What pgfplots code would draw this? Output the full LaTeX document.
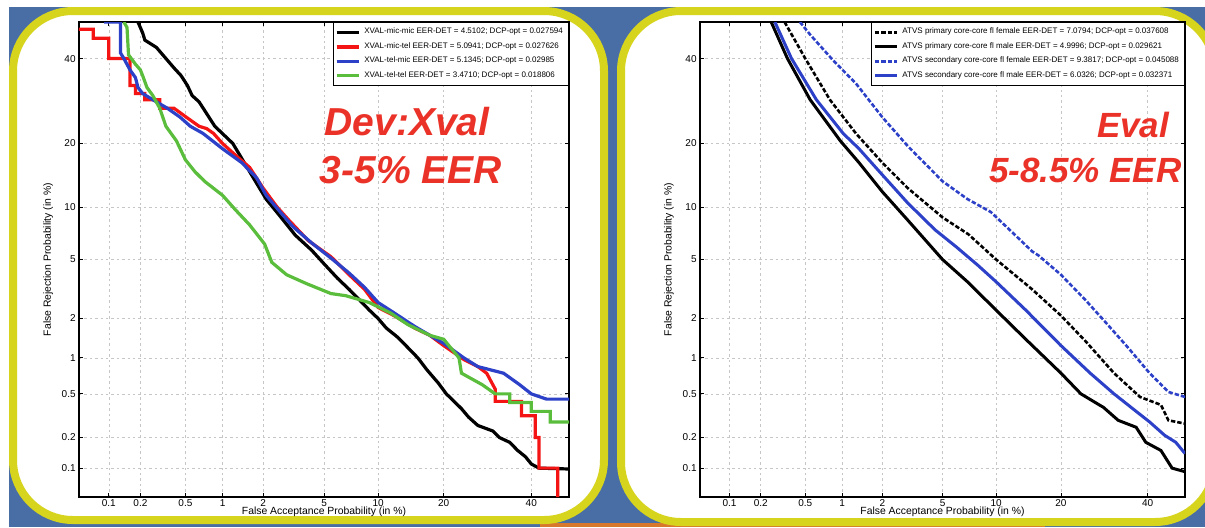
\documentclass[border=0pt]{standalone}
\usepackage{fontspec}
\setmainfont{Liberation Sans}
\usepackage{pgfplots}
\pgfplotsset{compat=1.18}
\usepackage{pgfplotstable}

\definecolor{bgblue}{RGB}{72,110,165}
\definecolor{frameyel}{RGB}{215,212,30}
\definecolor{txtred}{RGB}{235,50,40}
\definecolor{cblue}{RGB}{45,65,200}
\definecolor{cgreen}{RGB}{90,190,60}
\definecolor{cred}{RGB}{245,20,20}
\definecolor{orng}{RGB}{215,120,45}

% DET curves, false acceptance / false rejection in %
\pgfplotstableread{
fa fr
0.19 50
0.21 47
0.22 45
0.28 43
0.34 40
0.40 37.5
0.46 35.5
0.52 33
0.57 30.5
0.65 29
0.76 26
0.87 23.5
1.2 20
1.6 15
2.1 11
2.6 9
3.3 7
4.2 5.7
5.0 4.7
6.0 3.8
7.0 3.2
8.0 2.7
9.0 2.3
10 2.0
11 1.7
12.5 1.45
14 1.2
15.5 1.0
17 0.8
19 0.62
20.5 0.5
22 0.43
23.5 0.37
25 0.31
27 0.26
30.5 0.23
32 0.2
34.5 0.18
36.5 0.15
38.5 0.13
40 0.11
42 0.1
50 0.098
}\micmic
\pgfplotstableread{
fa fr
0.05 48
0.07 48
0.07 45.5
0.10 45.5
0.10 40
0.16 40
0.16 33
0.18 33
0.18 31
0.22 31
0.22 29.5
0.30 29.5
0.30 27.5
0.40 27.5
0.52 25.3
0.65 23.5
0.75 23
0.85 22
1.0 20
1.3 17.5
1.6 15.7
2.0 12.5
2.5 10
3.0 8.5
4.0 6.5
5.5 5.2
7 4
8.5 3.2
10 2.4
12 2.1
15 1.7
17.5 1.5
20 1.25
24 0.97
27 0.85
29 0.75
31 0.55
31 0.43
37.5 0.43
37.5 0.32
41 0.32
41 0.2
42 0.2
42 0.1
47 0.1
47 0.05
}\mictel
\pgfplotstableread{
fa fr
0.09 50
0.13 50
0.13 41.5
0.14 40
0.16 37
0.18 35
0.19 32.5
0.21 31
0.26 29.5
0.35 27.5
0.45 25.5
0.55 23.5
0.7 22
1.0 19
1.4 16.5
1.8 14
2.1 11.5
2.6 9.5
3.2 7.8
4.2 6.3
5.5 5.1
7 4.1
8.5 3.3
10 2.6
12 2.2
15 1.75
17.5 1.5
20 1.3
24 1.0
27 0.85
33 0.75
37 0.6
40 0.5
44 0.45
50 0.45
}\telmic
\pgfplotstableread{
fa fr
0.14 50
0.15 48.5
0.155 41
0.18 38.5
0.2 37
0.21 35.5
0.23 32.5
0.26 30.5
0.3 27.5
0.34 23.5
0.42 20.5
0.5 17
0.6 15
0.72 13.5
1.0 11.5
1.25 9.7
1.6 8
2.05 6.2
2.3 4.8
2.9 4.0
3.9 3.5
5.5 3.0
6.7 2.9
9 2.6
11.5 2.2
14 1.8
17.5 1.5
20 1.4
23 1.0
23.5 0.75
28 0.6
31 0.5
34.5 0.5
34.5 0.42
40 0.42
40 0.35
45 0.35
45 0.28
50 0.28
}\teltel
\pgfplotstableread{
fa fr
0.33 50
0.5 40
0.8 29.5
1.28 22
2 16.5
3 12.5
5 8.8
7.08 7.08
10 5
15 3.2
20 2.1
25 1.35
31.5 0.75
38 0.47
43.5 0.4
45.5 0.29
50 0.27
}\primfem
\pgfplotstableread{
fa fr
0.25 50
0.35 40
0.55 29.5
0.97 20.5
1.35 16.5
2 12
3 8.5
5 5
7 3.6
10 2.3
14 1.4
20 0.75
24 0.5
29 0.38
32.5 0.29
37 0.25
39.5 0.18
43.5 0.15
46.5 0.1
50 0.092
}\primmale
\pgfplotstableread{
fa fr
0.45 50
0.55 46.5
0.85 39.5
1.28 33.5
2 25.5
3 19.5
5 13.5
7 11
9.4 9.4
12 7.3
15 5.6
16 5.3
20 4.0
25 2.7
30 1.8
35 1.2
40.5 0.75
45.5 0.52
50 0.47
}\secfem
\pgfplotstableread{
fa fr
0.27 50
0.38 40
0.62 29.5
1.02 22
1.35 19
2 14.5
3 10.5
4.5 7.5
6 6
8 4.6
10 3.6
14 2.3
20 1.25
26 0.75
31.5 0.5
37 0.35
40.5 0.28
44.5 0.21
47.5 0.18
50 0.14
}\secmale

\pgfplotsset{
  det/.style={
    scale only axis, height=237.5pt,
    xmin=-3.2905, xmax=0, ymin=-3.2905, ymax=0,
    xtick={-3.0902,-2.8782,-2.5758,-2.3263,-2.0537,-1.6449,-1.2816,-0.8416,-0.2533},
    ytick={-3.0902,-2.8782,-2.5758,-2.3263,-2.0537,-1.6449,-1.2816,-0.8416,-0.2533},
    xticklabels={0.1,0.2,0.5,1,2,5,10,20,40},
    yticklabels={0.1,0.2,0.5,1,2,5,10,20,40},
    grid=major,
    major grid style={gray!45, line width=0.3pt, dash pattern=on 1.2pt off 1.5pt},
    axis line style={line width=0.6pt},
    tick style={black, line width=0.4pt},
    major tick length=2pt,
    tick align=inside,
    ticklabel style={font=\fontsize{5}{6}\selectfont},
    xticklabel style={inner sep=1.2pt},
    yticklabel style={inner sep=1.5pt},
    /pgf/number format/assume math mode=true,
    xlabel={False Acceptance Probability (in \%)},
    ylabel={False Rejection Probability (in \%)},
    label style={font=\fontsize{5.2}{6}\selectfont},
    xlabel style={at={(axis description cs:0.5,-0.032)}, anchor=center},
    legend cell align=left,
    legend style={at={(1,1)}, anchor=north east, draw=black, line width=0.5pt,
      font=\fontsize{4}{4.6}\selectfont, inner sep=0.8pt, row sep=-1.2pt},
    legend image code/.code={\draw[#1] (0pt,0pt) -- (11pt,0pt);},
    declare function={
      pt(\p)=sqrt(-2*ln(\p/100));
      probit(\p)=-(pt(\p)-(2.515517+0.802853*pt(\p)+0.010328*pt(\p)^2)/(1+1.432788*pt(\p)+0.189269*pt(\p)^2+0.001308*pt(\p)^3));
    },
  },
  detline/.style={line width=1.6pt},
}

\begin{document}
\begin{tikzpicture}
\useasboundingbox (0,0) rectangle (602.5pt,263.5pt);
\begin{scope}[x=0.5pt, y=-0.5pt, yshift=263.5pt]
  \clip (0,0) rectangle (1205,527);
  \fill[white] (0,0) rectangle (1205,527);
  \fill[bgblue] (9,7) rectangle (1205,527);
  \fill[orng] (540,523) rectangle (1045,527);
  \draw[frameyel, line width=4pt, fill=white, rounded corners=30pt] (13,11) rectangle (604,520);
  \draw[frameyel, line width=4pt, fill=white, rounded corners=30pt] (621,11) rectangle (1215,522);
\end{scope}

\begin{axis}[det, width=245pt, at={(39.5pt,15pt)}, anchor=south west,
  ylabel style={at={(axis description cs:-0.063,0.5)}, anchor=center}]
\addplot[detline, black] table[x expr={probit(\thisrow{fa})}, y expr={probit(\thisrow{fr})}] {\micmic};
\addlegendentry{XVAL-mic-mic EER-DET = 4.5102; DCP-opt = 0.027594}
\addplot[detline, cred] table[x expr={probit(\thisrow{fa})}, y expr={probit(\thisrow{fr})}] {\mictel};
\addlegendentry{XVAL-mic-tel EER-DET = 5.0941; DCP-opt = 0.027626}
\addplot[detline, cblue] table[x expr={probit(\thisrow{fa})}, y expr={probit(\thisrow{fr})}] {\telmic};
\addlegendentry{XVAL-tel-mic EER-DET = 5.1345; DCP-opt = 0.02985}
\addplot[detline, cgreen] table[x expr={probit(\thisrow{fa})}, y expr={probit(\thisrow{fr})}] {\teltel};
\addlegendentry{XVAL-tel-tel EER-DET = 3.4710; DCP-opt = 0.018806}
\end{axis}

\begin{axis}[det, width=242.5pt, at={(350pt,15pt)}, anchor=south west,
  ylabel style={at={(axis description cs:-0.064,0.5)}, anchor=center}]
\addplot[line width=1.3pt, black, dash pattern=on 2.2pt off 1pt] table[x expr={probit(\thisrow{fa})}, y expr={probit(\thisrow{fr})}] {\primfem};
\addlegendentry{ATVS primary core-core fl female EER-DET = 7.0794; DCP-opt = 0.037608}
\addplot[line width=1.5pt, black] table[x expr={probit(\thisrow{fa})}, y expr={probit(\thisrow{fr})}] {\primmale};
\addlegendentry{ATVS primary core-core fl male EER-DET = 4.9996; DCP-opt = 0.029621}
\addplot[line width=1.3pt, cblue, dash pattern=on 2.2pt off 1pt] table[x expr={probit(\thisrow{fa})}, y expr={probit(\thisrow{fr})}] {\secfem};
\addlegendentry{ATVS secondary core-core fl female EER-DET = 9.3817; DCP-opt = 0.045088}
\addplot[line width=1.5pt, cblue] table[x expr={probit(\thisrow{fa})}, y expr={probit(\thisrow{fr})}] {\secmale};
\addlegendentry{ATVS secondary core-core fl male EER-DET = 6.0326; DCP-opt = 0.032371}
\end{axis}

\begin{scope}[x=0.5pt, y=-0.5pt, yshift=263.5pt]
  \begin{scope}[every node/.style={text=txtred, inner sep=0pt, font=\fontsize{19.5}{22}\selectfont\bfseries\itshape}]
    \node at (407,122) {Dev:Xval};
    \node at (411,170) {3-5\% EER};
  \end{scope}
  \begin{scope}[every node/.style={text=txtred, inner sep=0pt, font=\fontsize{17.5}{20}\selectfont\bfseries\itshape}]
    \node at (1133,125) {Eval};
    \node[anchor=east] at (1182,170) {5-8.5\% EER};
  \end{scope}
\end{scope}
\end{tikzpicture}
\end{document}
